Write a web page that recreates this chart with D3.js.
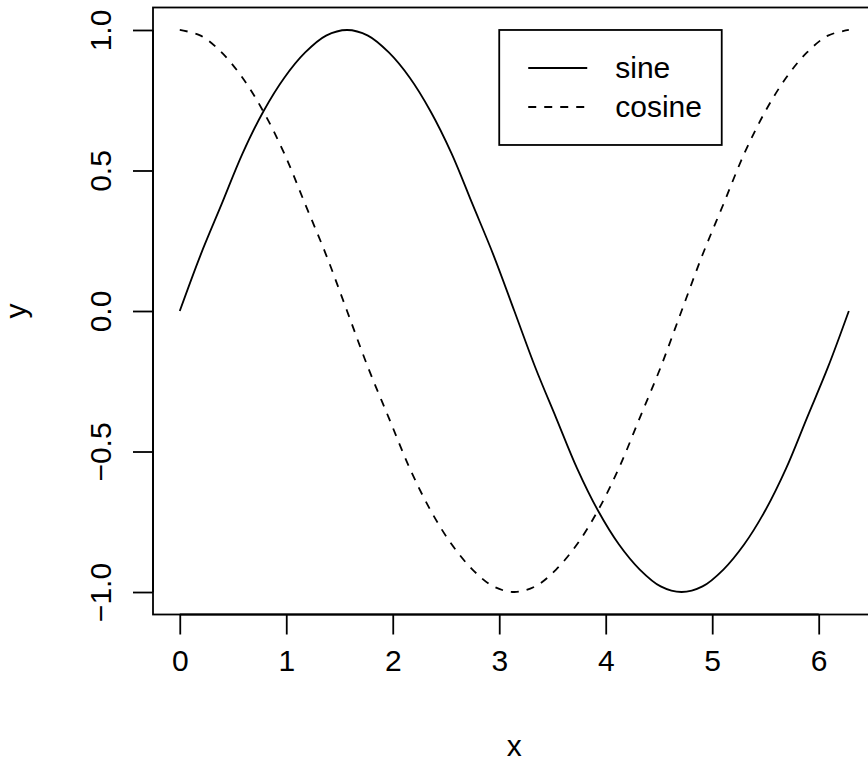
<!DOCTYPE html>
<html>
<head>
<meta charset="utf-8">
<script src="https://cdn.jsdelivr.net/npm/d3@7"></script>
<style>
  body { margin: 0; background: #fff; }
  svg { display: block; font-family: "Liberation Sans", Arial, Helvetica, sans-serif; }
</style>
</head>
<body>
<svg id="chart" width="868" height="764"></svg>
<script>
// values (x in radians)
const xValues = [0, 0.196, 0.393, 0.589, 0.785, 0.982, 1.178, 1.374, 1.571, 1.767, 1.963, 2.160, 2.356, 2.553, 2.749, 2.945,
  3.142, 3.338, 3.534, 3.731, 3.927, 4.123, 4.320, 4.516, 4.712, 4.909, 5.105, 5.301, 5.498, 5.694, 5.890, 6.087, 6.283];
const sineValues = [0, 0.20, 0.38, 0.56, 0.71, 0.83, 0.92, 0.98, 1.00, 0.98, 0.92, 0.83, 0.71, 0.56, 0.38, 0.20,
  0.00, -0.20, -0.38, -0.56, -0.71, -0.83, -0.92, -0.98, -1.00, -0.98, -0.92, -0.83, -0.71, -0.56, -0.38, -0.20, 0.00];
const cosineValues = [1.00, 0.98, 0.92, 0.83, 0.71, 0.56, 0.38, 0.20, 0.00, -0.20, -0.38, -0.56, -0.71, -0.83, -0.92, -0.98,
  -1.00, -0.98, -0.92, -0.83, -0.71, -0.56, -0.38, -0.20, 0.00, 0.20, 0.38, 0.56, 0.71, 0.83, 0.92, 0.98, 1.00];
const xTicks = [0, 1, 2, 3, 4, 5, 6];
const yTicks = [-1.0, -0.5, 0.0, 0.5, 1.0];
const legendLabels = ['sine', 'cosine'];
const legendAnchor = [3, 1]; // top-left corner of the legend, in data units

const svg = d3.select('#chart');
const fontSize = 30;
const lw = 1.8;

// R style: 4% padding on each side of the data range
const xMin = 0, xMax = 6.283, yMin = -1, yMax = 1;
const xPad = (xMax - xMin) * 0.04, yPad = (yMax - yMin) * 0.04;
const box = { left: 153, right: 875.6, top: 7.5, bottom: 614.5 };

const x = d3.scaleLinear().domain([xMin - xPad, xMax + xPad]).range([box.left, box.right]);
const y = d3.scaleLinear().domain([yMin - yPad, yMax + yPad]).range([box.bottom, box.top]);

// plot frame
svg.append('rect')
  .attr('x', box.left).attr('y', box.top)
  .attr('width', box.right - box.left).attr('height', box.bottom - box.top)
  .attr('fill', 'none').attr('stroke', '#000').attr('stroke-width', lw);

// x axis: ticks only span the tick range, like R's axis()
const xAxis = svg.append('g').attr('transform', `translate(0,${box.bottom})`)
  .call(d3.axisBottom(x).tickValues(xTicks).tickSize(20).tickFormat(d3.format('d')));
xAxis.select('.domain').attr('d', `M${x(0)},0H${x(6)}`).attr('stroke-width', lw);
xAxis.selectAll('.tick line').attr('stroke-width', lw);
xAxis.selectAll('text')
  .attr('font-size', fontSize).attr('font-family', null).attr('fill', '#000')
  .attr('y', 46).attr('dy', null).attr('dominant-baseline', 'central');

const yAxis = svg.append('g').attr('transform', `translate(${box.left},0)`)
  .call(d3.axisLeft(y).tickValues(yTicks).tickSize(20).tickFormat(d => d3.format('.1f')(d).replace('-', '\u2212')));
yAxis.select('.domain').attr('d', `M0,${y(-1)}V${y(1)}`).attr('stroke-width', lw);
yAxis.selectAll('.tick line').attr('stroke-width', lw);
yAxis.selectAll('text')
  .attr('font-size', fontSize).attr('font-family', null).attr('fill', '#000')
  .attr('x', null).attr('dy', null)
  .attr('text-anchor', 'middle')
  .attr('transform', 'translate(-53,0) rotate(-90)')
  .attr('dominant-baseline', 'central');

// axis titles
svg.append('text').attr('x', (box.left + box.right) / 2).attr('y', 756)
  .attr('text-anchor', 'middle').attr('font-size', fontSize).text('x');
svg.append('text').attr('transform', `translate(26,${(box.top + box.bottom) / 2}) rotate(-90)`)
  .attr('text-anchor', 'middle').attr('font-size', fontSize).text('y');

// curves
const line = d3.line().curve(d3.curveCatmullRom)
  .x((d, i) => x(xValues[i]))
  .y(d => y(d));

svg.append('path').datum(sineValues)
  .attr('d', line).attr('fill', 'none').attr('stroke', '#000').attr('stroke-width', lw);
svg.append('path').datum(cosineValues)
  .attr('d', line).attr('fill', 'none').attr('stroke', '#000').attr('stroke-width', lw)
  .attr('stroke-dasharray', '8,8');

// legend
const lg = svg.append('g').attr('transform', `translate(${x(legendAnchor[0])},${y(legendAnchor[1])})`);
lg.append('rect').attr('x', 0).attr('y', 0).attr('width', 222.5).attr('height', 115)
  .attr('fill', '#fff').attr('stroke', '#000').attr('stroke-width', lw);
legendLabels.forEach((name, i) => {
  const cy = 38 + i * 39;
  lg.append('line').attr('x1', 29).attr('x2', 88).attr('y1', cy).attr('y2', cy)
    .attr('stroke', '#000').attr('stroke-width', lw)
    .attr('stroke-dasharray', i === 1 ? '8,8' : null);
  lg.append('text').attr('x', 116).attr('y', cy).attr('dy', '0.35em')
    .attr('font-size', fontSize).text(name);
});
</script>
</body>
</html>
